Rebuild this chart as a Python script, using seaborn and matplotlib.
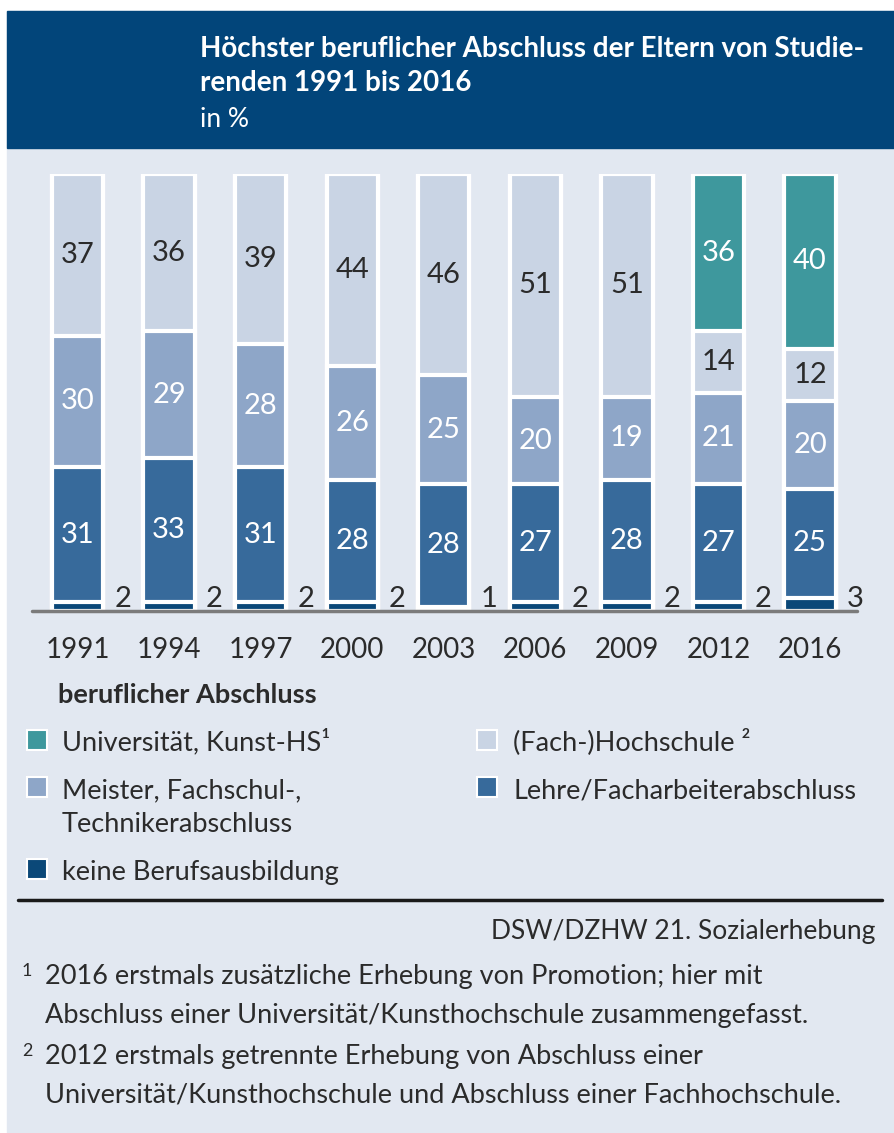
import numpy as np
import pandas as pd
import matplotlib
matplotlib.use("Agg")
import matplotlib.pyplot as plt
from matplotlib.patches import Rectangle
import seaborn as sns

years = ["1991", "1994", "1997", "2000", "2003", "2006", "2009", "2012", "2016"]
keine = [2, 2, 2, 2, 1, 2, 2, 2, 3]
lehre = [31, 33, 31, 28, 28, 27, 28, 27, 25]
meister = [30, 29, 28, 26, 25, 20, 19, 21, 20]
fach_hs = [37, 36, 39, 44, 46, 51, 51, 14, 12]
uni = [0, 0, 0, 0, 0, 0, 0, 36, 40]

labels = ["keine Berufsausbildung", "Lehre/Facharbeiterabschluss",
          "Meister, Fachschul-,\nTechnikerabschluss", "(Fach-)Hochschule ²",
          "Universität, Kunst-HS¹"]
colors = ["#0b4878", "#376a9b", "#8ea6c8", "#c9d4e4", "#3e989d"]
text_colors = ["#2b2b2b", "white", "white", "#2b2b2b", "white"]

BG = "#e2e8f1"
HEADER = "#02457a"
DARK = "#2b2b2b"
FONT = ["Lato", "DejaVu Sans"]
FS = 19.5

sns.set_style("white")
plt.rcParams["font.family"] = FONT

W, H = 894, 1133
fig = plt.figure(figsize=(W / 100, H / 100), dpi=100, facecolor="white")

def px(x, y):
    return x / W, 1 - y / H

# panel background and header band
fig.patches.append(Rectangle(px(7, H), (W - 7) / W, (H - 11) / H, transform=fig.transFigure,
                             color=BG, zorder=-10))
fig.patches.append(Rectangle(px(7, 148), (W - 7) / W, 137 / H, transform=fig.transFigure,
                             color=HEADER, zorder=-9))

fig.text(*px(200, 57), "Höchster beruflicher Abschluss der Eltern von Studie-",
         color="white", fontsize=20, fontweight="bold", va="baseline")
fig.text(*px(200, 91), "renden 1991 bis 2016", color="white", fontsize=20,
         fontweight="bold", va="baseline")
fig.text(*px(200, 127), "in %", color="white", fontsize=19, va="baseline")

# chart
x0, x1, ytop, ybase = 32, 857, 174, 611
ax = fig.add_axes([x0 / W, 1 - ybase / H, (x1 - x0) / W, (ybase - ytop) / H])
ax.set_facecolor("none")

series = [keine, lehre, meister, fach_hs, uni]
df = pd.DataFrame({"year": years})
cum = np.zeros(len(years))
cols = []
for k, s in enumerate(series):
    cum = cum + np.array(s)
    df[f"c{k}"] = cum
    cols.append(f"c{k}")

# draw cumulative bars from the top down so each layer covers the one above
for k in range(len(series) - 1, -1, -1):
    sns.barplot(data=df, x="year", y=cols[k], order=years, color=colors[k],
                saturation=1, width=0.56, edgecolor="white", linewidth=3,
                errorbar=None, ax=ax)

# value labels
for i in range(len(years)):
    below = 0
    for k, s in enumerate(series):
        v = s[i]
        if k == 0:
            ax.text(i + 0.40, 0.9, str(v), ha="left", va="baseline",
                    fontsize=21, color=DARK)
        elif v > 0:
            ax.text(i, below + v / 2, str(v), ha="center", va="center",
                    fontsize=21, color=text_colors[k])
        below += v

ax.axhline(0, color="#7b7b7b", lw=2.5, zorder=5, clip_on=False)
ax.set_xlim(-0.497, 8.513)
ax.set_ylim(0, 100)
ax.set_xlabel("")
ax.set_ylabel("")
ax.set_yticks([])
sns.despine(ax=ax, left=True, bottom=True)
ax.tick_params(axis="x", length=0, pad=19, labelsize=20, labelcolor=DARK)

# legend
fig.text(*px(58, 703), "beruflicher Abschluss", fontsize=FS, fontweight="bold",
         color=DARK, va="baseline")
legend_items = [
    (4, 27, 740, 62, [(750, labels[4])]),
    (3, 477, 740, 513, [(750, labels[3])]),
    (2, 27, 787, 62, [(798, "Meister, Fachschul-,"), (832, "Technikerabschluss")]),
    (1, 477, 787, 513, [(798, labels[1])]),
    (0, 27, 869, 62, [(880, labels[0])]),
]
for k, sx, sy, tx, lines in legend_items:
    fig.patches.append(Rectangle(px(sx, sy + 10), 20 / W, 20 / H, transform=fig.transFigure,
                                 facecolor=colors[k], edgecolor="white", lw=1.5))
    for by, t in lines:
        fig.text(*px(tx, by), t, fontsize=FS, color=DARK, va="baseline")

# separator and source
fig.add_artist(plt.Line2D([18 / W, 882 / W], [1 - 900 / H, 1 - 900 / H],
                          transform=fig.transFigure, color="#1a1a1a", lw=2.5))
fig.text(*px(875, 939), "DSW/DZHW 21. Sozialerhebung", fontsize=19, color=DARK,
         ha="right", va="baseline")

notes = [
    ("1", 984, ["2016 erstmals zusätzliche Erhebung von Promotion; hier mit",
                "Abschluss einer Universität/Kunsthochschule zusammengefasst."]),
    ("2", 1064, ["2012 erstmals getrennte Erhebung von Abschluss einer",
                 "Universität/Kunsthochschule und Abschluss einer Fachhochschule."]),
]
for mark, by, lines in notes:
    fig.text(*px(22, by - 8), mark, fontsize=13, color=DARK, va="baseline")
    for j, t in enumerate(lines):
        fig.text(*px(45, by + j * 39), t, fontsize=FS, color=DARK, va="baseline")

fig.savefig("out.png", dpi=100, facecolor=fig.get_facecolor())
